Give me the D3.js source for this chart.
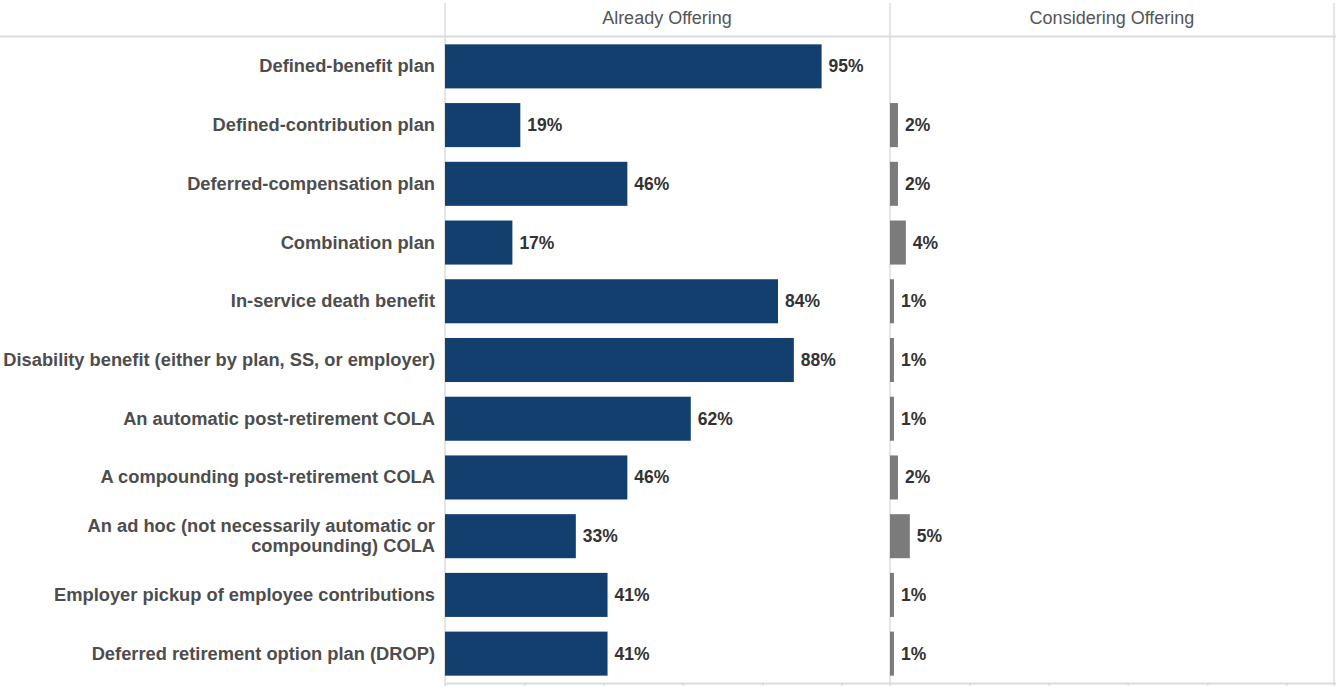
<!DOCTYPE html>
<html>
<head>
<meta charset="utf-8">
<script src="https://cdn.jsdelivr.net/npm/d3@7"></script>
<style>
  html, body { margin: 0; padding: 0; background: #fff; }
  svg { display: block; font-family: "Liberation Sans", Arial, sans-serif; }
</style>
</head>
<body>
<svg id="chart" width="1336" height="686"></svg>
<script>
// Plan features offered by public pension systems
const categories = [
  "Defined-benefit plan",
  "Defined-contribution plan",
  "Deferred-compensation plan",
  "Combination plan",
  "In-service death benefit",
  "Disability benefit (either by plan, SS, or employer)",
  "An automatic post-retirement COLA",
  "A compounding post-retirement COLA",
  "An ad hoc (not necessarily automatic or compounding) COLA",
  "Employer pickup of employee contributions",
  "Deferred retirement option plan (DROP)"
];
// Percent of respondents, one value per category (null = no response shown)
const alreadyOffering = [95, 19, 46, 17, 84, 88, 62, 46, 33, 41, 41];
const consideringOffering = [null, 2, 2, 4, 1, 1, 1, 2, 5, 1, 1];
const panelTitles = ["Already Offering", "Considering Offering"];
const tickValues = [0, 20, 40, 60, 80, 100];

// Wrapped category labels (line breaks as drawn)
const labelLines = {
  "An ad hoc (not necessarily automatic or compounding) COLA":
    ["An ad hoc (not necessarily automatic or", "compounding) COLA"]
};

const svg = d3.select("#chart");
const W = 1336, H = 686;
const headerBottom = 37, plotBottom = 683;
const panelStarts = [445, 890];
const panelWidth = 444;
const gridColor = "#dcdcdc";

const y = d3.scaleBand()
  .domain(categories)
  .range([headerBottom, plotBottom])
  .paddingInner(0.25)
  .paddingOuter(0.125);

const x = d3.scaleLinear()
  .domain([0, 112])
  .range([0, panelWidth]);

// Grid frame
svg.append("line")
  .attr("x1", 0).attr("x2", W)
  .attr("y1", headerBottom - 0.5).attr("y2", headerBottom - 0.5)
  .attr("stroke", gridColor).attr("stroke-width", 2);
svg.append("line")
  .attr("x1", panelStarts[0]).attr("x2", W)
  .attr("y1", plotBottom + 0.5).attr("y2", plotBottom + 0.5)
  .attr("stroke", gridColor).attr("stroke-width", 2);
[panelStarts[0], panelStarts[1], 1334].forEach(px => {
  svg.append("line")
    .attr("x1", px).attr("x2", px)
    .attr("y1", 3).attr("y2", H)
    .attr("stroke", gridColor).attr("stroke-width", 1.5);
});

// Panel headers
panelTitles.forEach((t, i) => {
  svg.append("text")
    .attr("x", panelStarts[i] + panelWidth / 2)
    .attr("y", 24)
    .attr("text-anchor", "middle")
    .attr("font-size", 18)
    .attr("fill", "#555")
    .text(t);
});

// Category labels
const labels = svg.append("g");
categories.forEach(c => {
  const lines = labelLines[c] || [c];
  const cy = y(c) + y.bandwidth() / 2;
  const t = labels.append("text")
    .attr("text-anchor", "end")
    .attr("font-size", 18.3)
    .attr("font-weight", "bold")
    .attr("fill", "#4d4d4d");
  lines.forEach((ln, j) => {
    t.append("tspan")
      .attr("x", 435)
      .attr("y", cy + 6 + (j - (lines.length - 1) / 2) * 20)
      .text(ln);
  });
});

// Panels
const series = [
  { values: alreadyOffering, color: "#123f6e" },
  { values: consideringOffering, color: "#7b7b7b" }
];
series.forEach((s, i) => {
  const g = svg.append("g").attr("transform", `translate(${panelStarts[i]},0)`);
  const data = categories.map((c, k) => ({ c, v: s.values[k] })).filter(d => d.v != null);

  g.selectAll("rect").data(data).join("rect")
    .attr("x", 0)
    .attr("y", d => y(d.c))
    .attr("width", d => x(d.v))
    .attr("height", y.bandwidth())
    .attr("fill", s.color);

  g.selectAll("text.val").data(data).join("text")
    .attr("class", "val")
    .attr("x", d => x(d.v) + 7)
    .attr("y", d => y(d.c) + y.bandwidth() / 2 + 6)
    .attr("font-size", 17.5)
    .attr("font-weight", "bold")
    .attr("fill", "#333")
    .text(d => d.v + "%");

  // Bottom axis ticks (labels hidden)
  const axis = d3.axisBottom(x).tickValues(tickValues).tickSize(4).tickFormat("");
  const ag = g.append("g").attr("transform", `translate(0,${plotBottom + 1})`).call(axis);
  ag.select(".domain").remove();
  ag.selectAll("line").attr("stroke", gridColor).attr("stroke-width", 1.5);
});
</script>
</body>
</html>
